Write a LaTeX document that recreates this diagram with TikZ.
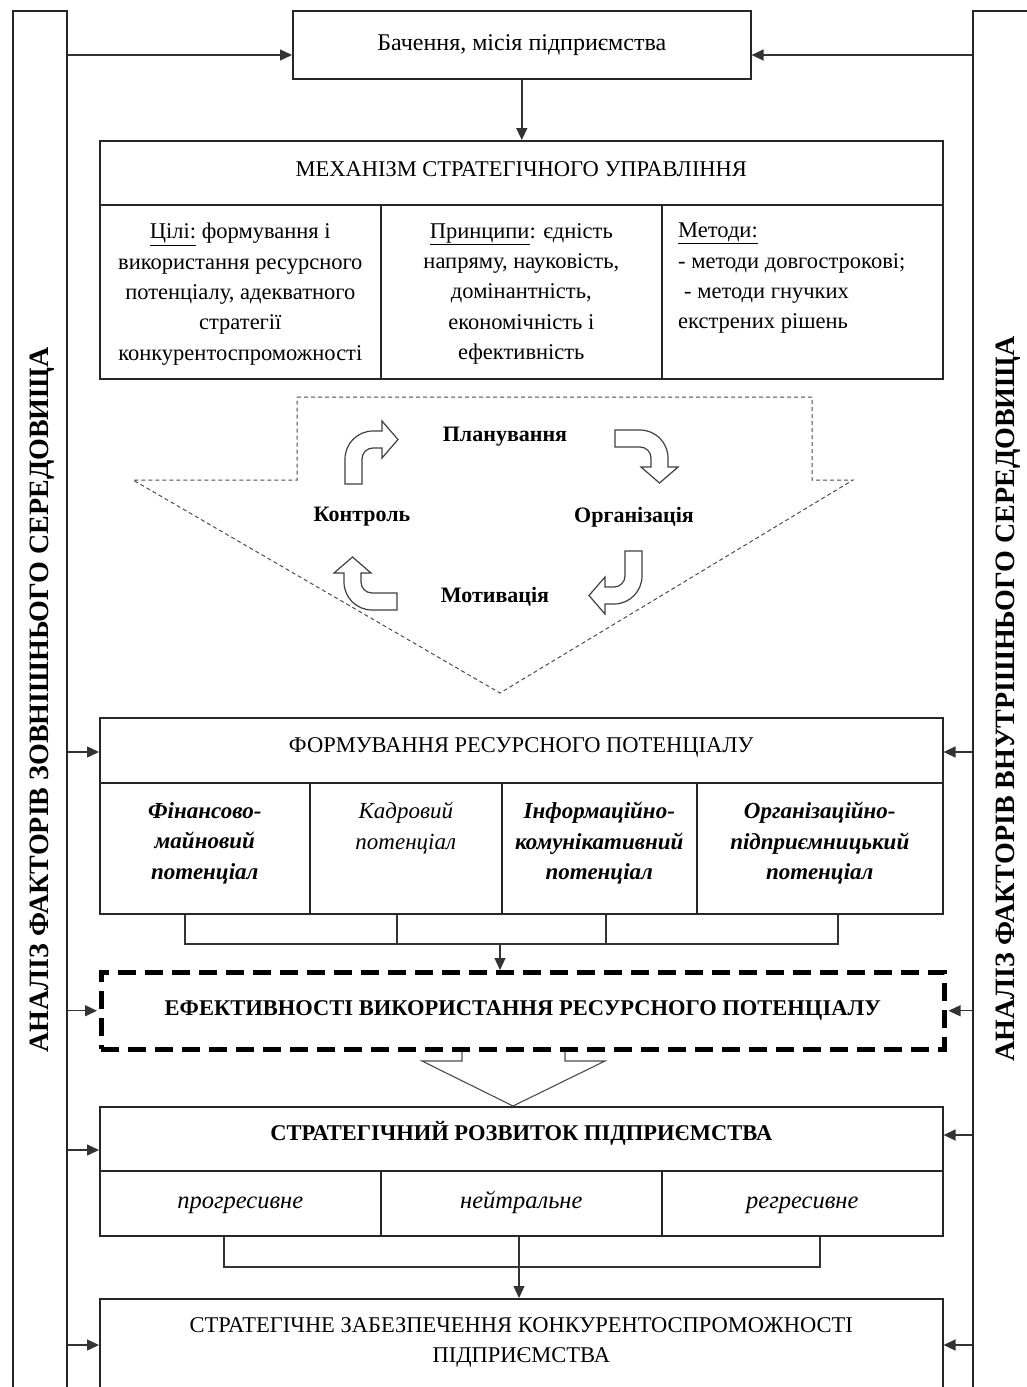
\documentclass[tikz,border=0pt]{standalone}
\usepackage{fontspec}
\setmainfont{Liberation Serif}
\usetikzlibrary{arrows.meta,calc}
\newcommand\fsz[2]{\fontsize{#1}{#2}\selectfont}
\tikzset{
  box/.style={draw=black!85,line width=1.6pt,rectangle,inner sep=0pt,anchor=north west},
  conn/.style={draw=black!80,line width=1.4pt},
  arr/.style={conn,-{Triangle[length=12pt,width=11pt]}},
  head/.style={font=\fsz{22.5}{26}},
  cell/.style={inner sep=0pt,anchor=north,align=center,font=\fsz{22.5}{30.3}},
  rcell/.style={inner sep=0pt,anchor=north,align=center,font=\fsz{23}{30.5}\bfseries\itshape},
  scell/.style={box,minimum width=281pt,minimum height=65pt,text height=17pt,text depth=6pt,font=\fsz{24.5}{28}\itshape},
  cyc/.style={font=\fsz{22}{26}\bfseries},
  side/.style={rotate=90,font=\fsz{28}{32}\bfseries},
  bentarrow/.pic={\draw[line width=1.2pt,draw=black!75,fill=white]
    (0,0) -- (0,-25) .. controls (0,-40.5) and (12.5,-53) .. (28,-53) -- (37,-53)
    -- (37,-63) -- (53,-44.5) -- (37,-26) -- (37,-36) -- (28,-36)
    .. controls (21.9,-36) and (17,-31.1) .. (17,-25) -- (17,0) -- cycle;}
}
\begin{document}
\begin{tikzpicture}[x=1pt,y=-1pt]
\useasboundingbox (0,0) rectangle (1027,1387);
\fill[white] (0,0) rectangle (1027,1387);
\clip (0,0) rectangle (1027,1387);

% side columns
\node[box,minimum width=54pt,minimum height=1420pt] (leftcol) at (12,10) {};
\node[box,minimum width=90pt,minimum height=1420pt] (rightcol) at (972,10) {};
\node[side] (lefttxt) at (42,700) {АНАЛІЗ ФАКТОРІВ ЗОВНІШНЬОГО СЕРЕДОВИЩА};
\node[side] (righttxt) at (1008,699) {АНАЛІЗ ФАКТОРІВ ВНУТРІШНЬОГО СЕРЕДОВИЩА};

% vision
\node[box,minimum width=458pt,minimum height=68pt,font=\fsz{24}{28}] (vision) at (292,10) {Бачення, місія підприємства};

% mechanism
\node[box,minimum width=843pt,minimum height=64pt] (mechh) at (99,140) {};
\node[head] (mechht) at ($(mechh.center)+(0,-4)$) {МЕХАНІЗМ СТРАТЕГІЧНОГО УПРАВЛІННЯ};
\node[box,minimum width=281pt,minimum height=174pt] (m1) at (99,204) {};
\node[box,minimum width=281pt,minimum height=174pt] (m2) at (380,204) {};
\node[box,minimum width=281pt,minimum height=174pt] (m3) at (661,204) {};
\node[cell] (m1t) at ($(m1.north)+(0,19)$) {\underline{Цілі:} формування і\\використання ресурсного\\потенціалу, адекватного\\стратегії\\конкурентоспроможності};
\node[cell] (m2t) at ($(m2.north)+(0,19)$) {\underline{Принципи}: єдність\\напряму, науковість,\\домінантність,\\економічність і\\ефективність};
\node[cell,anchor=north west,align=left] (m3t) at (678,223) {\underline{Методи:}\\- методи довгострокові;\\\hspace*{6pt}- методи гнучких\\екстрених рішень};

% cycle
\draw[draw=black!70,line width=1pt,dash pattern=on 4pt off 3pt] (297,397) -- (812,397) -- (812,480) -- (853,480) -- (500,693) -- (133,480) -- (297,480) -- cycle;
\node[cyc] (plan) at (505,437) {Планування};
\node[cyc] (ctrl) at (362,517) {Контроль};
\node[cyc] (org) at (634,517) {Організація};
\node[cyc] (mot) at (495,597) {Мотивація};
\pic at (345,484) {bentarrow};
\pic[rotate=-90] at (615,430) {bentarrow};
\pic[rotate=180] at (642,551) {bentarrow};
\pic[rotate=90] at (397,610) {bentarrow};

% resource potential
\node[box,minimum width=843pt,minimum height=65pt] (resh) at (99,717) {};
\node[head] (resht) at ($(resh.center)+(0,-3)$) {ФОРМУВАННЯ РЕСУРСНОГО ПОТЕНЦІАЛУ};
\node[box,minimum width=210pt,minimum height=131pt] (r1) at (99,782) {};
\node[box,minimum width=192pt,minimum height=131pt] (r2) at (309,782) {};
\node[box,minimum width=195pt,minimum height=131pt] (r3) at (501,782) {};
\node[box,minimum width=246pt,minimum height=131pt] (r4) at (696,782) {};
\node[rcell] (r1t) at ($(r1.north)+(0,20)$) {Фінансово-\\майновий\\потенціал};
\node[rcell,font=\fsz{23}{30.5}\itshape] (r2t) at ($(r2.north)+(0,20)$) {Кадровий\\потенціал};
\node[rcell] (r3t) at ($(r3.north)+(0,20)$) {Інформаційно-\\комунікативний\\потенціал};
\node[rcell] (r4t) at ($(r4.north)+(0,20)$) {Організаційно-\\підприємницький\\потенціал};

% bracket 1
\coordinate (b1) at (185,944);
\coordinate (b2) at (397,944);
\coordinate (b3) at (606,944);
\coordinate (b4) at (838,944);
\coordinate (bm) at (500,944);
\draw[conn,line width=1.2pt] (r1.south -| b1) -- (b1) -- (b4) -- (r4.south -| b4);
\draw[conn,line width=1.2pt] (r2.south -| b2) -- (b2);
\draw[conn,line width=1.2pt] (r3.south -| b3) -- (b3);

% efficiency
\node[box,draw=black,line width=4.5pt,dash pattern=on 18pt off 9pt,minimum width=843pt,minimum height=77pt,font=\fsz{22.5}{26}\bfseries] (eff) at (99,970) {ЕФЕКТИВНОСТІ ВИКОРИСТАННЯ РЕСУРСНОГО ПОТЕНЦІАЛУ};
\draw[arr,line width=1.2pt] (bm) -- (eff.north -| bm);

% strategic development
\node[box,minimum width=843pt,minimum height=64pt] (strh) at (99,1106) {};
\node[font=\fsz{22.5}{26}\bfseries] (strht) at ($(strh.center)+(0,-5)$) {СТРАТЕГІЧНИЙ РОЗВИТОК ПІДПРИЄМСТВА};
\node[scell] (s1) at (99,1170) {прогресивне};
\node[scell] (s2) at (380,1170) {нейтральне};
\node[scell] (s3) at (661,1170) {регресивне};

% hollow arrow
\coordinate (ha1) at (462,1061);
\coordinate (ha2) at (565,1061);
\coordinate (tip) at (513,1106);
\draw[draw=black!70,line width=1.1pt] (eff.south -| ha1) -- (ha1) -- (422,1061) -- (strh.north -| tip) -- (605,1061) -- (ha2) -- (eff.south -| ha2);

% bracket 2
\coordinate (c1) at (224,1267);
\coordinate (c2) at (519,1267);
\coordinate (c3) at (820,1267);
\draw[conn,line width=1.2pt] (s1.south -| c1) -- (c1) -- (c3) -- (s3.south -| c3);
\draw[conn,line width=1.2pt] (s2.south -| c2) -- (c2);

% final
\node[box,minimum width=843pt,minimum height=140pt] (fin) at (99,1298) {};
\node[cell] (fint) at ($(fin.north)+(0,19)$) {СТРАТЕГІЧНЕ ЗАБЕЗПЕЧЕННЯ КОНКУРЕНТОСПРОМОЖНОСТІ\\ПІДПРИЄМСТВА};
\draw[arr,line width=1.2pt] (c2) -- (fin.north -| c2);

% side arrows
\draw[arr] (leftcol.east |- 0,55) -- (vision.west |- 0,55);
\draw[arr] (rightcol.west |- 0,55) -- (vision.east |- 0,55);
\draw[arr] (vision.south) -- (mechh.north -| vision.south);
\draw[arr] (leftcol.east |- 0,752) -- (resh.west |- 0,752);
\draw[arr] (rightcol.west |- 0,752) -- (resh.east |- 0,752);
\draw[arr] (leftcol.east |- eff.west) -- ([xshift=-2pt]eff.west);
\draw[arr] (rightcol.west |- eff.east) -- ([xshift=2pt]eff.east);
\draw[arr] (leftcol.east |- 0,1150) -- (strh.west |- 0,1150);
\draw[arr] (rightcol.west |- 0,1135) -- (strh.east |- 0,1135);
\draw[arr] (leftcol.east |- 0,1345) -- (fin.west |- 0,1345);
\draw[arr] (rightcol.west |- 0,1345) -- (fin.east |- 0,1345);
\end{tikzpicture}
\end{document}
